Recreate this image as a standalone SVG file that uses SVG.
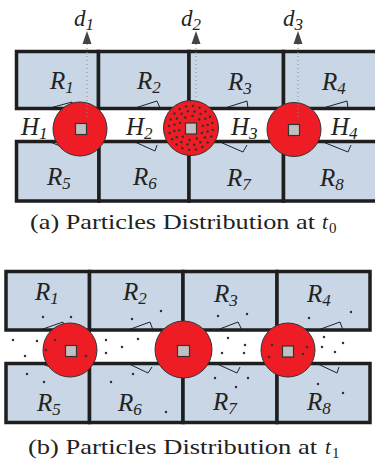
<svg xmlns="http://www.w3.org/2000/svg" xmlns:xlink="http://www.w3.org/1999/xlink" width="375" height="462" viewBox="0 0 375 462">
<style>
.cell{fill:#c8d6e5;stroke:#1e1e1e;stroke-width:3.5}
.hub{fill:#ee1c24;stroke:#333;stroke-width:1}
.sq{fill:#c0c0c0;stroke:#333;stroke-width:1.2}
.wedge{fill:none;stroke:#222;stroke-width:1}
.dotl{stroke:#8a8a8a;stroke-width:1;stroke-dasharray:1 3;fill:none}
.arr{fill:#444}
.lbl{font-family:"Liberation Serif","DejaVu Serif",serif;font-style:italic;font-size:25px;fill:#222}
.sub{font-size:17px}
.dl{font-family:"Liberation Serif","DejaVu Serif",serif;font-style:italic;font-size:23px;fill:#222}
.cap{font-family:"Liberation Serif","DejaVu Serif",serif;font-size:21px;fill:#222}
.capi{font-family:"Liberation Serif","DejaVu Serif",serif;font-size:21px;font-style:italic;fill:#222}
.capsub{font-family:"Liberation Serif","DejaVu Serif",serif;font-size:15px;fill:#222}
</style>
<defs>
<circle id="p" r="1.25" fill="#333"/>
</defs>
<rect width="375" height="462" fill="#fff"/>

<!-- ===== Panel (a) ===== -->
<g id="a-R1"><rect class="cell" x="16.5" y="51.5" width="82" height="57"/><text class="lbl" x="50" y="89">R<tspan class="sub" dy="4">1</tspan></text></g>
<g id="a-R2"><rect class="cell" x="98.5" y="51.5" width="90.5" height="57"/><text class="lbl" x="137" y="89">R<tspan class="sub" dy="4">2</tspan></text></g>
<g id="a-R3"><rect class="cell" x="189" y="51.5" width="94.5" height="57"/><text class="lbl" x="228" y="90">R<tspan class="sub" dy="4">3</tspan></text></g>
<g id="a-R4"><rect class="cell" x="283.5" y="51.5" width="94" height="57"/><text class="lbl" x="322" y="90">R<tspan class="sub" dy="4">4</tspan></text></g>
<g id="a-R5"><rect class="cell" x="16.5" y="141.5" width="82.5" height="59.5"/><text class="lbl" x="47" y="185">R<tspan class="sub" dy="4">5</tspan></text></g>
<g id="a-R6"><rect class="cell" x="99" y="141.5" width="90" height="59.5"/><text class="lbl" x="133" y="185">R<tspan class="sub" dy="4">6</tspan></text></g>
<g id="a-R7"><rect class="cell" x="189" y="141.5" width="94.5" height="59.5"/><text class="lbl" x="227" y="186">R<tspan class="sub" dy="4">7</tspan></text></g>
<g id="a-R8"><rect class="cell" x="283.5" y="141.5" width="94" height="59.5"/><text class="lbl" x="320" y="186">R<tspan class="sub" dy="4">8</tspan></text></g>

<g id="a-marks">
<path class="wedge" d="M50,108 L72,102 L73,108"/>
<path class="wedge" d="M135,108 L157,101 L160,108"/>
<path class="wedge" d="M225,108 L247,101 L248,108"/>
<path class="wedge" d="M323,108 L347,101 L348,108"/>
<path class="wedge" d="M50,142 L60,146"/>
<path class="wedge" d="M135,142 L155,151 L157,145"/>
<path class="wedge" d="M220,142 L243,152 L247,145"/>
<path class="wedge" d="M323,142 L348,152 L351,145"/>
</g>

<g id="a-H-labels">
<text class="lbl" x="21" y="135">H<tspan class="sub" dy="4">1</tspan></text>
<text class="lbl" x="126" y="135">H<tspan class="sub" dy="4">2</tspan></text>
<text class="lbl" x="231" y="135">H<tspan class="sub" dy="4">3</tspan></text>
<text class="lbl" x="331" y="135">H<tspan class="sub" dy="4">4</tspan></text>
</g>

<g id="a-hub1"><circle class="hub" cx="80" cy="129" r="27"/><rect class="sq" x="75.5" y="123.5" width="11" height="11"/></g>
<g id="a-hub2"><circle class="hub" cx="191" cy="128" r="27.5"/><rect class="sq" x="185.5" y="123" width="11" height="11"/>
<g id="a-particles">
<use href="#p" x="212.9" y="129.9"/><use href="#p" x="211.3" y="136.6"/><use href="#p" x="207.6" y="142.4"/><use href="#p" x="202.3" y="146.9"/><use href="#p" x="195.9" y="149.4"/><use href="#p" x="189.1" y="149.9"/><use href="#p" x="182.4" y="148.3"/><use href="#p" x="176.6" y="144.6"/><use href="#p" x="172.1" y="139.3"/><use href="#p" x="169.6" y="132.9"/><use href="#p" x="169.1" y="126.1"/><use href="#p" x="170.7" y="119.4"/><use href="#p" x="174.4" y="113.6"/><use href="#p" x="179.7" y="109.1"/><use href="#p" x="186.1" y="106.6"/><use href="#p" x="192.9" y="106.1"/><use href="#p" x="199.6" y="107.7"/><use href="#p" x="205.4" y="111.4"/><use href="#p" x="209.9" y="116.7"/><use href="#p" x="212.4" y="123.1"/>
<use href="#p" x="207.6" y="131.5"/><use href="#p" x="205" y="137.6"/><use href="#p" x="200.3" y="142.3"/><use href="#p" x="194.1" y="144.7"/><use href="#p" x="187.5" y="144.6"/><use href="#p" x="181.4" y="142"/><use href="#p" x="176.7" y="137.3"/><use href="#p" x="174.3" y="131.1"/><use href="#p" x="174.4" y="124.5"/><use href="#p" x="177" y="118.4"/><use href="#p" x="181.7" y="113.7"/><use href="#p" x="187.9" y="111.3"/><use href="#p" x="194.5" y="111.4"/><use href="#p" x="200.6" y="114"/><use href="#p" x="205.3" y="118.7"/><use href="#p" x="207.7" y="124.9"/>
<use href="#p" x="201.9" y="133.1"/><use href="#p" x="196.8" y="138.5"/><use href="#p" x="189.5" y="139.9"/><use href="#p" x="182.8" y="136.8"/><use href="#p" x="179.2" y="130.3"/><use href="#p" x="180.1" y="122.9"/><use href="#p" x="185.2" y="117.5"/><use href="#p" x="192.5" y="116.1"/><use href="#p" x="199.2" y="119.2"/><use href="#p" x="202.8" y="125.7"/>
</g></g>
<g id="a-hub3"><circle class="hub" cx="294" cy="129.5" r="27"/><rect class="sq" x="288.5" y="124.5" width="11" height="11"/></g>

<g id="connectors">
<path class="dotl" d="M87,44 V117"/>
<path class="dotl" d="M196,44 V103"/>
<path class="dotl" d="M298,44 V117"/>
<path class="arr" d="M87,31 L91.5,44 L82.5,44 Z"/>
<path class="arr" d="M196,31 L200.5,44 L191.5,44 Z"/>
<path class="arr" d="M298,31 L302.5,44 L293.5,44 Z"/>
</g>
<g id="d-labels">
<text class="dl" x="74" y="26">d<tspan class="sub" dy="4">1</tspan></text>
<text class="dl" x="181" y="26">d<tspan class="sub" dy="4">2</tspan></text>
<text class="dl" x="283" y="26">d<tspan class="sub" dy="4">3</tspan></text>
</g>

<g id="caption-a">
<text class="cap" x="30" y="229" textLength="285" lengthAdjust="spacingAndGlyphs">(a) Particles Distribution at</text>
<text class="capi" x="322" y="229">t</text><text class="capsub" x="329" y="233">0</text>
</g>

<!-- ===== Panel (b) ===== -->
<g id="b-R1"><rect class="cell" x="6" y="271.5" width="83.5" height="58.5"/><text class="lbl" x="35" y="300">R<tspan class="sub" dy="4">1</tspan></text></g>
<g id="b-R2"><rect class="cell" x="89.5" y="271.5" width="93.5" height="58.5"/><text class="lbl" x="123" y="300">R<tspan class="sub" dy="4">2</tspan></text></g>
<g id="b-R3"><rect class="cell" x="183" y="271.5" width="94" height="58.5"/><text class="lbl" x="214" y="302">R<tspan class="sub" dy="4">3</tspan></text></g>
<g id="b-R4"><rect class="cell" x="277" y="271.5" width="93" height="58.5"/><text class="lbl" x="307" y="302">R<tspan class="sub" dy="4">4</tspan></text></g>
<g id="b-R5"><rect class="cell" x="6" y="363.5" width="83.5" height="59"/><text class="lbl" x="37" y="411">R<tspan class="sub" dy="4">5</tspan></text></g>
<g id="b-R6"><rect class="cell" x="89.5" y="363.5" width="93.5" height="59"/><text class="lbl" x="118" y="411">R<tspan class="sub" dy="4">6</tspan></text></g>
<g id="b-R7"><rect class="cell" x="183" y="363.5" width="94" height="59"/><text class="lbl" x="213" y="410">R<tspan class="sub" dy="4">7</tspan></text></g>
<g id="b-R8"><rect class="cell" x="277" y="363.5" width="93" height="59"/><text class="lbl" x="307" y="410">R<tspan class="sub" dy="4">8</tspan></text></g>

<g id="b-marks">
<path class="wedge" d="M40,330 L63,322 L64,330"/>
<path class="wedge" d="M128,330 L150,322 L153,330"/>
<path class="wedge" d="M217,330 L238,322 L242,330"/>
<path class="wedge" d="M318,330 L340,322 L343,330"/>
<path class="wedge" d="M40,363 L50,367"/>
<path class="wedge" d="M127,363 L148,373 L152,367"/>
<path class="wedge" d="M215,363 L237,373 L240,367"/>
<path class="wedge" d="M318,364 L337,373 L339,367"/>
</g>

<g id="b-hub1"><circle class="hub" cx="70" cy="350" r="27"/><rect class="sq" x="65.5" y="345.5" width="11" height="11"/></g>
<g id="b-hub2"><circle class="hub" cx="183.5" cy="349.5" r="28.5"/><rect class="sq" x="177.5" y="345.5" width="12" height="11"/></g>
<g id="b-hub3"><circle class="hub" cx="288" cy="350" r="27"/><rect class="sq" x="282.5" y="346" width="11" height="11"/></g>

<g id="b-particles">
<use href="#p" x="43" y="317"/><use href="#p" x="71" y="317"/><use href="#p" x="132" y="319"/><use href="#p" x="161" y="311"/>
<use href="#p" x="13" y="340"/><use href="#p" x="37" y="341"/><use href="#p" x="55" y="340"/><use href="#p" x="46" y="350"/><use href="#p" x="25" y="356"/><use href="#p" x="86" y="356"/>
<use href="#p" x="106" y="340"/><use href="#p" x="122" y="347"/><use href="#p" x="138" y="339"/><use href="#p" x="106" y="353"/>
<use href="#p" x="218" y="316"/><use href="#p" x="247" y="314"/><use href="#p" x="309" y="318"/><use href="#p" x="351" y="312"/>
<use href="#p" x="228" y="338"/><use href="#p" x="245" y="345"/><use href="#p" x="222" y="353"/><use href="#p" x="244" y="353"/>
<use href="#p" x="272" y="345"/><use href="#p" x="269" y="357"/><use href="#p" x="307" y="347"/><use href="#p" x="303" y="354"/>
<use href="#p" x="324" y="337"/><use href="#p" x="343" y="343"/><use href="#p" x="322" y="347"/><use href="#p" x="335" y="352"/>
<use href="#p" x="27" y="374"/><use href="#p" x="44" y="382"/><use href="#p" x="111" y="382"/><use href="#p" x="133" y="374"/><use href="#p" x="166" y="412"/>
<use href="#p" x="215" y="378"/><use href="#p" x="248" y="378"/><use href="#p" x="236" y="387"/><use href="#p" x="318" y="384"/><use href="#p" x="343" y="393"/>
</g>

<g id="caption-b">
<text class="cap" x="28" y="454" textLength="289" lengthAdjust="spacingAndGlyphs">(b) Particles Distribution at</text>
<text class="capi" x="325" y="454">t</text><text class="capsub" x="332" y="458">1</text>
</g>
</svg>
